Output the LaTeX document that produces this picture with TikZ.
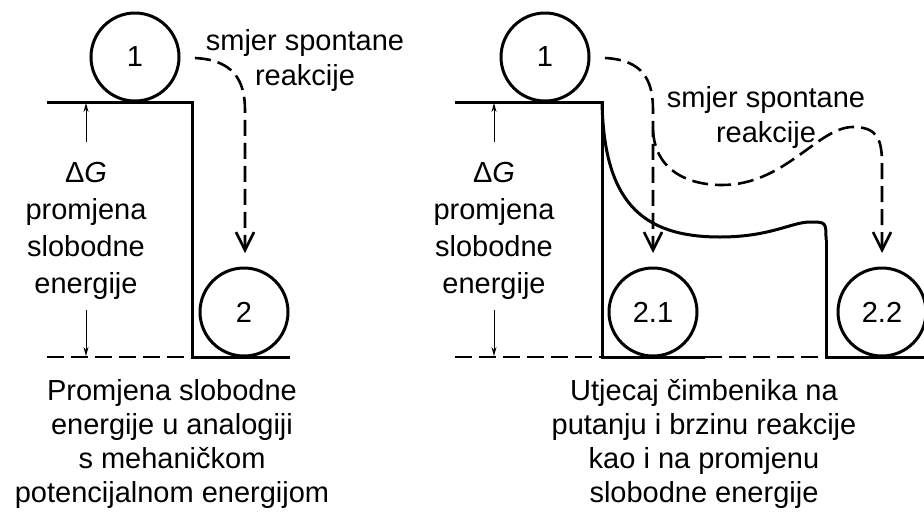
\documentclass[tikz,border=0pt]{standalone}
\usepackage{fontspec}
\setmainfont{Liberation Sans}
\usetikzlibrary{arrows.meta}
\begin{document}
\begin{tikzpicture}[x=1pt,y=-1pt,
  every node/.style={font=\fontsize{29}{35}\selectfont, inner sep=0pt, outer sep=0pt},
  ball/.style={circle, draw, line width=3pt, minimum size=88pt},
  txt/.style={align=center, anchor=north},
  captxt/.style={align=center, anchor=north, font=\fontsize{29}{34}\selectfont},
  dgtxt/.style={align=center, anchor=north, font=\fontsize{29}{37}\selectfont},
  wall/.style={line width=3pt, line join=miter},
  floordash/.style={line width=2.6pt, dash pattern=on 17pt off 7pt},
  path/.style={line width=2.6pt, dash pattern=on 16pt off 7pt, -{Straight Barb[length=18pt,width=18pt,line width=2.6pt]}},
  dim/.style={line width=0.9pt, -{Stealth[length=9pt,width=5pt]}}
]
\useasboundingbox (0,0) rectangle (924,512);

% ---------- left diagram ----------
\coordinate (L1) at (47,102);
\coordinate (L2) at (192,102);
\coordinate (L3) at (192,357);
\coordinate (L4) at (290,357);
\coordinate (L0) at (47,357);
\draw[wall] (L1) -- (L2) -- (L3) -- (L4);
\draw[floordash] (L0) -- (L3);

\node[ball] (a1) at (135,57) {1};
\node[ball] (a2) at (244,312) {2};

\coordinate (as) at (195,58);
\coordinate (av) at (245,110);
\coordinate (at) at (245,253);
\draw[path] (as) .. controls (233,60) and (245,80) .. (av) -- (at);

\node[txt] (alab) at (305,29) {smjer spontane\\reakcije};

\node[dgtxt] (adg) at (86,162) {Δ\textit{G}\\promjena\\slobodne\\energije};
\coordinate (adt0) at (86,142);
\coordinate (adt1) at (86,103);
\coordinate (adb0) at (86,310);
\coordinate (adb1) at (86,356);
\draw[dim] (adt0) -- (adt1);
\draw[dim] (adb0) -- (adb1);

\node[captxt] (acap) at (172,379) {Promjena slobodne\\energije u analogiji\\s mehaničkom\\potencijalnom energijom};

% ---------- right diagram ----------
\coordinate (R1) at (455,102);
\coordinate (R2) at (602,102);
\coordinate (R3) at (602,357);
\coordinate (R4) at (705,357);
\coordinate (R0) at (455,357);
\coordinate (R5) at (826,357);
\coordinate (R6) at (924,357);
\coordinate (R7) at (826,240);
\draw[wall] (R1) -- (R2) -- (R3) -- (R4);
\draw[floordash] (R0) -- (R3);
\draw[floordash] (R4) -- (R5);
\draw[wall] (R7) -- (R5) -- (R6);
\draw[wall, line join=round] (R2) .. controls (604,200) and (640,237) .. (720,237)
   .. controls (770,237) and (792,222) .. (810,222)
   .. controls (826,222) .. (R7);

\node[ball] (b1) at (545,57) {1};
\node[ball] (b21) at (653,312) {2.1};
\node[ball] (b22) at (882,312) {2.2};

\coordinate (bs) at (605,58);
\coordinate (bv) at (653,110);
\coordinate (bt) at (653,253);
\draw[path] (bs) .. controls (643,60) and (653,80) .. (bv) -- (bt);

\coordinate (cb) at (653,130);
\coordinate (ct) at (882,253);
\draw[path] (cb) .. controls (655,172) and (690,185) .. (722,185)
   .. controls (785,185) and (818,127) .. (853,127)
   .. controls (878,127) and (882,140) .. (882,165) -- (ct);

\node[txt] (blab) at (766,86) {smjer spontane\\reakcije};

\node[dgtxt] (bdg) at (494,162) {Δ\textit{G}\\promjena\\slobodne\\energije};
\coordinate (bdt0) at (494,142);
\coordinate (bdt1) at (494,103);
\coordinate (bdb0) at (494,310);
\coordinate (bdb1) at (494,356);
\draw[dim] (bdt0) -- (bdt1);
\draw[dim] (bdb0) -- (bdb1);

\node[captxt] (bcap) at (704,379) {Utjecaj čimbenika na\\putanju i brzinu reakcije\\kao i na promjenu\\slobodne energije};
\end{tikzpicture}
\end{document}
